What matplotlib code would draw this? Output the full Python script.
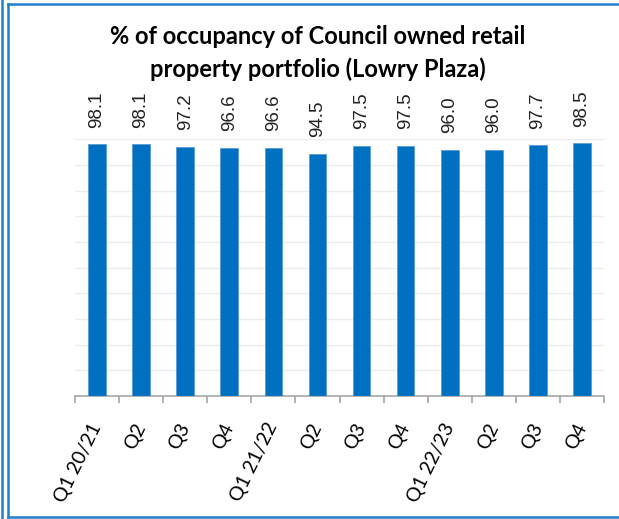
import matplotlib.pyplot as plt
from matplotlib.lines import Line2D

# quarterly occupancy (%)
quarters = ["Q1 20/21", "Q2", "Q3", "Q4",
            "Q1 21/22", "Q2", "Q3", "Q4",
            "Q1 22/23", "Q2", "Q3", "Q4"]
occupancy = [98.1, 98.1, 97.2, 96.6, 96.6, 94.5, 97.5, 97.5, 96.0, 96.0, 97.7, 98.5]
grid_levels = [10, 20, 30, 40, 50, 60, 70, 80, 90, 100]

bar_col = "#0070C0"

fig = plt.figure(figsize=(6.19, 5.19), dpi=100)
ax = fig.add_axes([75 / 619, 1 - 396 / 519, 529 / 619, (396 - 139.4) / 519])

x = list(range(len(quarters)))
ax.bar(x, occupancy, width=0.4, color=bar_col, edgecolor="#5b9bd5", linewidth=0.6, zorder=3)

# value labels sit a fixed distance above each bar
for xi, v in zip(x, occupancy):
    ax.annotate(f"{v:.1f}", (xi, v), xytext=(0, 12), textcoords="offset points",
                rotation=90, ha="center", va="bottom", fontsize=13.5,
                family="Liberation Sans", color="#222222")

ax.set_xlim(-0.5, len(quarters) - 0.5)
ax.set_ylim(0, 100)

for g in grid_levels:
    ax.axhline(g, color="#ececec", linewidth=1, zorder=1)

ax.set_yticks([])
for s in ["top", "right", "left"]:
    ax.spines[s].set_visible(False)
ax.spines["bottom"].set_color("#a6a6a6")
ax.spines["bottom"].set_linewidth(1.2)

ax.set_xticks(x)
ax.set_xticks([i - 0.5 for i in range(len(quarters) + 1)], minor=True)
ax.tick_params(axis="x", which="major", length=0, pad=20)
ax.tick_params(axis="x", which="minor", length=5, width=1.2, color="#a6a6a6")
ax.set_xticklabels(quarters, rotation=64, ha="right", va="center",
                   rotation_mode="anchor", fontsize=14, family="Lato")

fig.text(0.514, 1 - 37 / 519, "% of occupancy of Council owned retail",
         ha="center", va="center", fontsize=17, fontweight="bold", family="Lato")
fig.text(0.514, 1 - 69 / 519, "property portfolio (Lowry Plaza)",
         ha="center", va="center", fontsize=17, fontweight="bold", family="Lato")

# chart frame
frame_col = "#1f7fd0"
fx0, fy0, fy1 = 7.5 / 619, 1 - 517 / 519, 1 - 4 / 519
fig.add_artist(Line2D([fx0, fx0], [fy0, fy1], color=frame_col, lw=1.8))
fig.add_artist(Line2D([fx0, 1.0], [fy1, fy1], color=frame_col, lw=1.8))
fig.add_artist(Line2D([fx0, 1.0], [fy0, fy0], color=frame_col, lw=1.8))
fig.add_artist(Line2D([1.5 / 619, 1.5 / 619], [0, 1], color=frame_col, lw=1.8))

fig.savefig("out.png", dpi=100)
